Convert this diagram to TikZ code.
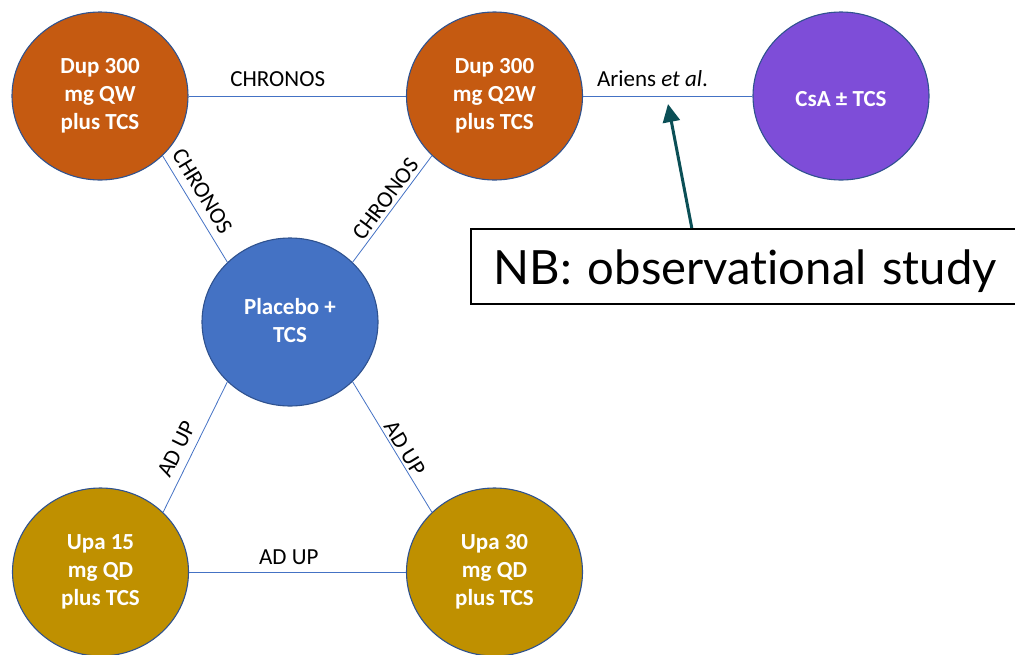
\documentclass[tikz,border=0pt]{standalone}
\usepackage{fontspec}
\setmainfont{Carlito}
\newfontfamily\latofont[Ligatures=NoCommon]{Lato}
\usetikzlibrary{shapes.geometric,arrows.meta}

\definecolor{armorange}{HTML}{C55A11}
\definecolor{armblue}{HTML}{4472C4}
\definecolor{armpurple}{HTML}{7E4DD8}
\definecolor{armgold}{HTML}{BF9000}
\definecolor{rimblue}{HTML}{2F528F}
\definecolor{linkblue}{HTML}{4472C4}
\definecolor{pointer}{HTML}{0B4F56}

\tikzset{
  arm/.style={ellipse, draw=rimblue, line width=1.1pt, minimum width=176pt,
    minimum height=168pt, inner sep=0pt, text=white, align=center,
    font=\bfseries\fontsize{23}{28}\selectfont,
    execute at begin node=\rule{0pt}{24pt},
    execute at end node=\rule[-4pt]{0pt}{4pt}},
  link/.style={draw=linkblue, line width=0.8pt},
  linklabel/.style={font=\fontsize{23}{28}\selectfont, text=black, inner sep=2pt},
  notebox/.style={draw=black, line width=1.6pt, fill=white, anchor=north west,
    minimum width=560pt, minimum height=75pt, inner xsep=21pt, inner ysep=0pt,
    text width=514pt, align=left, font=\latofont\fontsize{47.2}{50}\selectfont},
  pointerarrow/.style={draw=pointer, line width=3pt,
    -{Triangle[length=18pt,width=17pt]}}
}

\begin{document}
\begin{tikzpicture}[x=1pt,y=-1pt]
  \useasboundingbox (0,0) rectangle (1015,654);

  % treatment arms
  \node[arm, fill=armorange] (qw)  at (100,96)  {Dup 300\\mg QW\\plus TCS};
  \node[arm, fill=armorange] (q2w) at (494.5,96) {Dup 300\\mg Q2W\\plus TCS};
  \node[arm, fill=armpurple] (csa) at (841,96)  {CsA ± TCS};
  \node[arm, fill=armblue]   (pbo) at (290,322) {Placebo +\\TCS};
  \node[arm, fill=armgold]   (u15) at (100.5,572) {Upa 15\\mg QD\\plus TCS};
  \node[arm, fill=armgold]   (u30) at (494.5,572) {Upa 30\\mg QD\\plus TCS};

  % trial links, attached at the circles' side connection points
  \path[link] (qw) -- node[linklabel, pos=0.41, above=6.5pt] {CHRONOS} (q2w);
  \path[link] (q2w) -- node[linklabel, pos=0.41, above=7pt] {Ariens \textit{et al}.} (csa);
  \path[link] (qw.south east) -- node[linklabel, pos=0.41, sloped, above=5.5pt] {CHRONOS} (pbo.north west);
  \path[link] (q2w.south west) -- node[linklabel, pos=0.47, sloped, above=1.5pt] {CHRONOS} (pbo.north east);
  \path[link] (pbo.south west) -- node[linklabel, pos=0.57, sloped, above=6pt] {AD UP} (u15.north east);
  \path[link] (pbo.south east) -- node[linklabel, pos=0.55, sloped, above=0pt] {AD UP} (u30.north west);
  \path[link] (u15) -- node[linklabel, pos=0.46, above=5pt] {AD UP} (u30);

  % note on the observational comparison
  \node[notebox] (note) at (470,228) {\rule{0pt}{45pt}NB: observational study};
  \coordinate (tip) at (668,104);
  \draw[pointerarrow] ([xshift=-59pt]note.north) -- (tip);
\end{tikzpicture}
\end{document}
